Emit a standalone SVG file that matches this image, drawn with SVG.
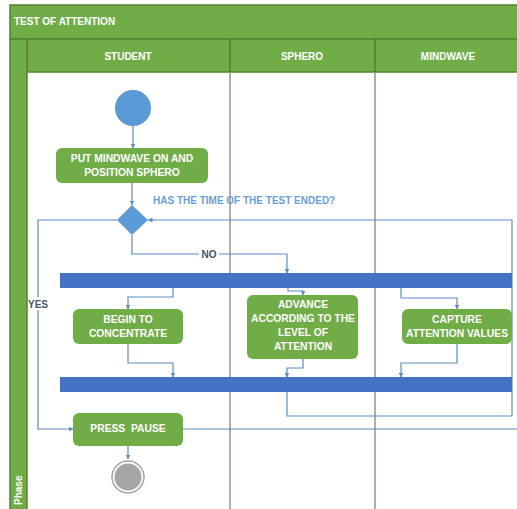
<svg xmlns="http://www.w3.org/2000/svg" width="517" height="509" viewBox="0 0 517 509">
<defs>
<style>
.hdr{fill:#70ad47;stroke:#548235;stroke-width:1.5}
.ht{font-family:"Liberation Sans",Arial,sans-serif;font-weight:bold;font-size:10px;fill:#fff}
.lane{stroke:#8c9a7c;stroke-width:1.5;fill:none}
.box{fill:#70ad47}
.bt{font-family:"Liberation Sans",Arial,sans-serif;font-weight:bold;font-size:10.3px;fill:#fff;text-anchor:middle}
.bar{fill:#4472c4}
.c{stroke:#5f8cbf;stroke-width:1.2;fill:none}
.ca{stroke:#5f8cbf;stroke-width:1.2;fill:none;marker-end:url(#ah)}
.lbl{font-family:"Liberation Sans",Arial,sans-serif;font-weight:bold;font-size:10px}
</style>
<marker id="ah" viewBox="0 0 10 10" refX="9" refY="5" markerWidth="5" markerHeight="5" orient="auto" markerUnits="userSpaceOnUse">
<path d="M0,0 L10,5 L0,10 z" fill="#5b8ec7"/>
</marker>
</defs>
<rect width="517" height="509" fill="#fff"/>
<g id="pool">
<rect class="hdr" x="10" y="5" width="515" height="34"/>
<text class="ht" x="14" y="25">TEST OF ATTENTION</text>
<rect class="hdr" x="10" y="39" width="17" height="480"/>
<text class="ht" transform="translate(22,505) rotate(-90)">Phase</text>
<rect class="hdr" x="27" y="39" width="203" height="33"/>
<rect class="hdr" x="230" y="39" width="145" height="33"/>
<rect class="hdr" x="375" y="39" width="150" height="33"/>
<text class="ht" x="128" y="59.5" text-anchor="middle">STUDENT</text>
<text class="ht" x="302" y="59.5" text-anchor="middle">SPHERO</text>
<text class="ht" x="448" y="59.5" text-anchor="middle">MINDWAVE</text>
<line class="lane" x1="230" y1="72" x2="230" y2="509"/>
<line class="lane" x1="375" y1="72" x2="375" y2="509"/>
</g>
<g id="connectors">
<path class="ca" d="M133,126 V148"/>
<path class="ca" d="M132,183 V205"/>
<path class="ca" d="M512,416 V220 H148"/>
<path class="ca" d="M117,220 H38 V429 H73"/>
<path class="ca" d="M132,235 V254 H287 V273"/>
<path class="ca" d="M173,288 V297 H128 V309"/>
<path class="ca" d="M128,344 V363 H173 V377"/>
<path class="ca" d="M288,288 V291 H303 V295"/>
<path class="ca" d="M303,359 V368 H287 V377"/>
<path class="ca" d="M401,288 V298 H457 V309"/>
<path class="ca" d="M457,344 V363 H401 V377"/>
<path class="c" d="M287,392 V416 H512"/>
<path class="c" d="M183,429 H517"/>
<path class="ca" d="M128,446 V459"/>
<rect x="199" y="248" width="20" height="12" fill="#fff"/>
<text class="lbl" x="209" y="258" text-anchor="middle" fill="#44546a">NO</text>
<rect x="28" y="297" width="18" height="13" fill="#fff"/>
<text class="lbl" x="28" y="307.5" fill="#44546a">YES</text>
<text class="lbl" x="153" y="204" fill="#6a9fd8">HAS THE TIME OF THE TEST ENDED?</text>
</g>
<g id="start"><circle cx="133" cy="108" r="18" fill="#5b9bd5"/></g>
<g id="put"><rect class="box" x="56" y="148" width="152" height="35" rx="6"/>
<text class="bt" x="132" y="162">PUT MINDWAVE ON AND</text>
<text class="bt" x="132" y="176">POSITION SPHERO</text></g>
<g id="decision"><path d="M132,205 L148,220 L132,235 L117,220 z" fill="#5b9bd5"/></g>
<g id="fork"><rect class="bar" x="60" y="273" width="452" height="15"/></g>
<g id="begin"><rect class="box" x="73" y="309" width="110" height="35" rx="6"/>
<text class="bt" x="128" y="323">BEGIN TO</text>
<text class="bt" x="128" y="337">CONCENTRATE</text></g>
<g id="advance"><rect class="box" x="247" y="295" width="111" height="64" rx="6"/>
<text class="bt" x="303" y="308">ADVANCE</text>
<text class="bt" x="303" y="322">ACCORDING TO THE</text>
<text class="bt" x="303" y="336">LEVEL OF</text>
<text class="bt" x="303" y="350">ATTENTION</text></g>
<g id="capture"><rect class="box" x="402" y="309" width="110" height="35" rx="6"/>
<text class="bt" x="457" y="323">CAPTURE</text>
<text class="bt" x="457" y="337">ATTENTION VALUES</text></g>
<g id="join"><rect class="bar" x="60" y="377" width="452" height="15"/></g>
<g id="pause"><rect class="box" x="73" y="413" width="110" height="33" rx="6"/>
<text class="bt" x="128" y="432" xml:space="preserve">PRESS  PAUSE</text></g>
<g id="end"><circle cx="128" cy="477" r="16" fill="#fff" stroke="#a5a5a5" stroke-width="1.5"/>
<circle cx="128" cy="477" r="13.5" fill="#a5a5a5"/></g>
</svg>
